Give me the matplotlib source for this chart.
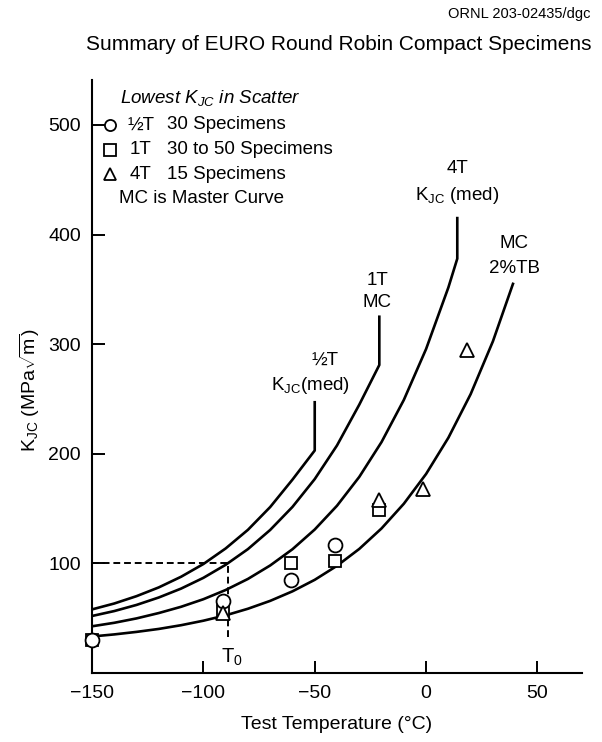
import matplotlib
matplotlib.use("Agg")
import matplotlib.pyplot as plt

plt.rcParams['font.family'] = ['Liberation Sans', 'DejaVu Sans']
plt.rcParams['mathtext.fontset'] = 'custom'
plt.rcParams['mathtext.rm'] = 'Liberation Sans'
plt.rcParams['mathtext.it'] = 'Liberation Sans:italic'
plt.rcParams['mathtext.bf'] = 'Liberation Sans:bold'

# curves (test temperature in C, K_JC in MPa*sqrt(m))
temp_half = [-150, -140, -130, -120, -110, -100, -90, -80, -70, -60, -50]
k_half = [58.0, 63.4, 70.1, 78.1, 87.8, 99.4, 113.6, 130.6, 151.4, 176.4, 203]
half_top = 247

temp_1t = [-150, -140, -130, -120, -110, -100, -90, -80, -70, -60, -50, -40, -30, -21]
k_1t = [52.0, 56.5, 62.1, 68.9, 77.0, 86.8, 98.7, 113.0, 130.5, 151.5, 176.9, 207.6, 244.8, 281]
mc_top = 325

temp_4t = [-150, -140, -130, -120, -110, -100, -90, -80, -70, -60, -50, -40, -30, -20, -10, 0, 10, 14]
k_4t = [42.6, 45.8, 49.8, 54.7, 60.4, 67.3, 75.7, 85.8, 98.1, 112.9, 130.9, 152.6, 178.9, 210.7,
        249.1, 295.6, 351.7, 378]
fourt_top = 415

temp_tb = [-150, -140, -130, -120, -110, -100, -90, -80, -70, -60, -50, -40, -30, -20, -10, 0, 10, 20, 30, 39]
k_tb = [33.3, 35.2, 37.5, 40.2, 43.6, 47.7, 52.6, 58.6, 65.8, 74.5, 85.0, 97.8, 113.2, 131.9,
        154.4, 181.6, 214.6, 254.4, 302.6, 355]

# lowest K_JC in scatter
half_t = [-150, -91, -60.5, -41]
half_k = [30, 66, 85, 116.5]
one_t = [-150, -91, -60.5, -41, -21]
one_k = [30, 57, 100, 102.5, 148.5]
four_t = [-91, -21, -1.5, 18.5]
four_k = [55, 158, 168, 295]

t0 = -89
k_ref = 100

fig = plt.figure(figsize=(6.02, 7.42), dpi=100)
ax = fig.add_axes([0.1528, 0.0930, 0.814, 0.7992])

lw = 1.9
ax.plot(temp_half + [temp_half[-1]], k_half + [half_top], color='black', lw=lw)
ax.plot(temp_1t + [temp_1t[-1]], k_1t + [mc_top], color='black', lw=lw)
ax.plot(temp_4t + [temp_4t[-1]], k_4t + [fourt_top], color='black', lw=lw)
ax.plot(temp_tb, k_tb, color='black', lw=lw)

# T0 reference lines
ax.plot([-150, t0, t0], [k_ref, k_ref, 33], color='black', lw=1.4, ls=(0, (3.5, 2)))
ax.text(t0 + 2, 14, r'T$_\mathregular{0}$', fontsize=14.5, ha='center', va='center')

mk = dict(mfc='white', mec='black', mew=1.3, ls='none', clip_on=False, zorder=5)
ax.plot(one_t, one_k, marker='s', ms=9, **mk)
ax.plot(half_t, half_k, marker='o', ms=10, **mk)
ax.plot(four_t, four_k, marker='^', ms=9.5, **mk)

# legend block
fs = 13.5
ax.text(-137.5, 525, r'Lowest $K_{JC}$ in Scatter', fontsize=fs, style='italic', va='center')
rows = [('o', '½T', '30 Specimens', 500),
        ('s', '1T', '30 to 50 Specimens', 477.5),
        ('^', '4T', '15 Specimens', 455)]
for m, size, desc, yy in rows:
    ax.plot([-142], [yy], marker=m, ms=8, mfc='white', mec='black', mew=1.3, ls='none')
    ax.text(-128, yy, size, fontsize=fs, ha='center', va='center')
    ax.text(-116.5, yy, desc, fontsize=fs, va='center')
ax.text(-138, 433, 'MC is Master Curve', fontsize=fs, va='center')

# curve labels
ax.text(-45.5, 285, '½T', fontsize=fs, ha='center', va='center')
ax.text(-52, 262, r'K$_\mathregular{JC}$(med)', fontsize=fs, ha='center', va='center')
ax.text(-22, 358, '1T', fontsize=fs, ha='center', va='center')
ax.text(-22, 338, 'MC', fontsize=fs, ha='center', va='center')
ax.text(14, 460, '4T', fontsize=fs, ha='center', va='center')
ax.text(14, 436, r'K$_\mathregular{JC}$ (med)', fontsize=fs, ha='center', va='center')
ax.text(39.5, 392, 'MC', fontsize=fs, ha='center', va='center')
ax.text(39.5, 369, '2%TB', fontsize=fs, ha='center', va='center')

ax.set_xlim(-150, 70)
ax.set_ylim(0, 541)
ax.set_xticks([-150, -100, -50, 0, 50])
ax.set_yticks([100, 200, 300, 400, 500])
ax.tick_params(direction='in', length=9, width=1.4, labelsize=14, pad=9)
ax.tick_params(axis='y', pad=8)
for s in ['top', 'right']:
    ax.spines[s].set_visible(False)
for s in ['left', 'bottom']:
    ax.spines[s].set_linewidth(1.5)

ax.set_xlabel('Test Temperature (°C)', fontsize=14, labelpad=10)
fig.text(30 / 602, 1 - 390 / 742, r'K$_\mathregular{JC}$ (MPa$\sqrt{\mathregular{m}}$)',
         rotation=90, fontsize=14, ha='center', va='center')

fig.text(590 / 602, 1 - 14 / 742, 'ORNL 203-02435/dgc', fontsize=10.5, ha='right', va='center')
fig.text(339 / 602, 1 - 45 / 742, 'Summary of EURO Round Robin Compact Specimens',
         fontsize=15, ha='center', va='center')

fig.savefig('out.png', dpi=100)
